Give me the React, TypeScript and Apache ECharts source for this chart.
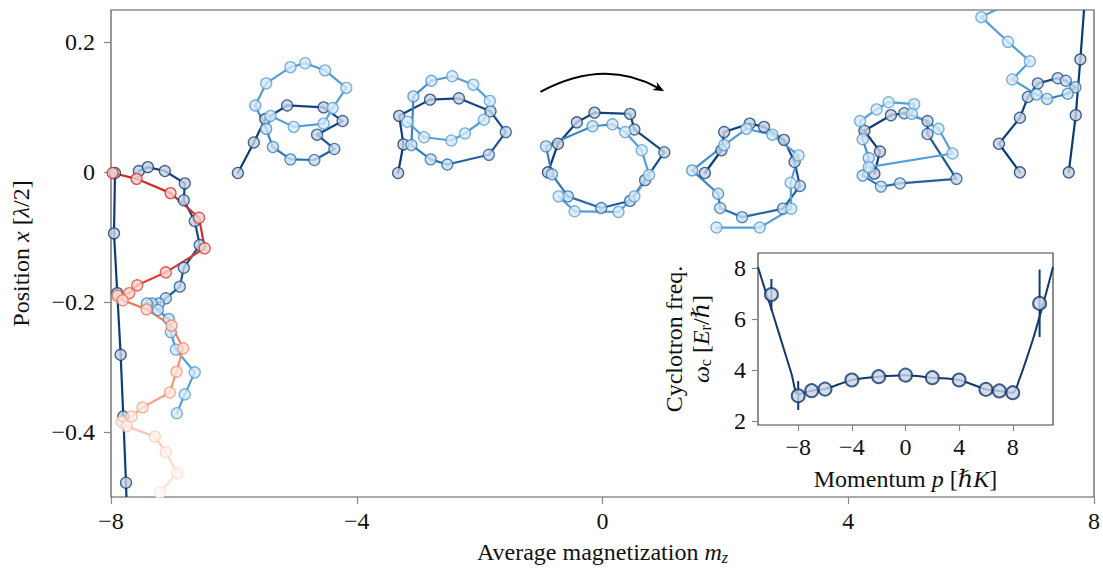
import React, { useEffect, useRef } from "react";
import * as echarts from "echarts";

// ---------- main panel: trajectories (average magnetization m_z, position x [λ/2]) ----------
const loop1Mz = [-5.935, -5.675, -5.49, -5.133, -4.539, -4.23, -4.646, -4.365, -4.69, -5.079, -5.366, -5.474, -5.652, -5.474, -5.079, -4.841, -4.516, -4.17, -4.393, -4.539, -5.026, -5.404];
const loop1Pos = [-0.001, 0.046, 0.082, 0.103, 0.1, 0.079, 0.058, 0.036, 0.019, 0.02, 0.039, 0.067, 0.103, 0.137, 0.162, 0.168, 0.157, 0.13, 0.099, 0.075, 0.07, 0.087];

const loop2Mz = [-3.327, -3.24, -3.31, -2.807, -2.337, -1.823, -1.574, -1.85, -2.526, -2.797, -3.11, -3.078, -2.786, -2.445, -2.104, -1.834, -1.931, -2.239, -2.461, -2.905, -3.176];
const loop2Pos = [-0.001, 0.043, 0.087, 0.112, 0.114, 0.094, 0.062, 0.027, 0.012, 0.02, 0.042, 0.117, 0.141, 0.148, 0.135, 0.11, 0.081, 0.06, 0.049, 0.054, 0.078];

const loop3Mz = [-0.888, -0.725, -0.417, -0.13, 0.449, 0.519, 1.006, 0.693, 0.449, -0.021, -0.563, -0.823, -0.92, -0.162, 0.162, 0.368, 0.638, 0.758, 0.519, 0.26, -0.454, -0.714];
const loop3Pos = [0.0, 0.044, 0.077, 0.092, 0.09, 0.066, 0.031, -0.012, -0.044, -0.055, -0.037, -0.003, 0.04, 0.071, 0.074, 0.062, 0.034, -0.004, -0.037, -0.061, -0.06, -0.037];

const loop4Mz = [1.666, 1.936, 1.98, 2.396, 2.629, 2.953, 3.127, 3.213, 2.937, 2.272, 1.915, 1.882, 1.46, 1.98, 2.342, 2.764, 3.191, 3.062, 3.072, 2.559, 1.855];
const loop4Pos = [-0.001, 0.034, 0.062, 0.075, 0.07, 0.05, 0.016, -0.021, -0.056, -0.069, -0.055, -0.033, 0.003, 0.042, 0.067, 0.058, 0.026, -0.016, -0.056, -0.085, -0.085];

const loop5Mz = [4.425, 4.516, 4.263, 4.695, 4.912, 5.29, 5.29, 5.761, 4.841, 4.532, 4.235, 4.333, 4.235, 4.192, 4.462, 4.657, 5.074, 5.036, 5.469, 5.696, 4.333];
const loop5Pos = [-0.002, 0.032, 0.064, 0.088, 0.091, 0.079, 0.059, -0.01, -0.017, -0.022, -0.005, 0.022, 0.051, 0.079, 0.097, 0.108, 0.105, 0.09, 0.067, 0.029, 0.008];

const edgeRightAMz = [6.794, 6.453, 6.794, 6.924, 7.086, 7.411, 7.541, 7.697, 7.573, 7.237, 7.064, 6.669, 6.956, 6.599, 6.166, 6.669];
const edgeRightAPos = [0.0, 0.044, 0.084, 0.116, 0.137, 0.145, 0.141, 0.131, 0.121, 0.113, 0.12, 0.143, 0.171, 0.201, 0.239, 0.263];

const edgeRightBMz = [7.589, 7.703, 7.778, 7.846];
const edgeRightBPos = [0.0, 0.088, 0.174, 0.261];

const edgeLeftAMz = [-7.935, -7.951, -7.898, -7.843, -7.8, -7.756, -7.724];
const edgeLeftAPos = [-0.001, -0.094, -0.186, -0.281, -0.376, -0.478, -0.577];

const edgeLeftBMz = [-7.546, -7.4, -7.124, -6.799, -6.815, -6.637, -6.556, -6.815, -6.88, -7.108, -7.221, -7.335, -7.416, -7.237, -7.059, -7.026, -6.945, -6.637, -6.799, -6.929];
const edgeLeftBPos = [0.002, 0.008, 0.002, -0.017, -0.043, -0.075, -0.112, -0.147, -0.176, -0.194, -0.202, -0.202, -0.202, -0.212, -0.226, -0.246, -0.273, -0.308, -0.342, -0.371];

const redMz = [-7.973, -7.583, -7.031, -6.567, -6.475, -7.108, -7.573, -7.703, -7.898, -7.81, -7.421, -7.015, -6.827, -6.934, -7.043, -7.486, -7.664, -7.826, -7.745, -7.286, -7.108, -6.924, -7.205, -7.367];
const redPos = [-0.001, -0.01, -0.032, -0.07, -0.117, -0.154, -0.174, -0.186, -0.19, -0.197, -0.211, -0.236, -0.271, -0.307, -0.339, -0.362, -0.376, -0.384, -0.391, -0.407, -0.431, -0.463, -0.493, -0.524];

const mainXTicks = [-8, -4, 0, 4, 8];
const mainYTicks = [-0.4, -0.2, 0, 0.2];

// ---------- inset: cyclotron frequency vs momentum ----------
const insetP = [-10, -8, -7, -6, -4, -2, 0, 2, 4, 6, 7, 8, 10];
const insetW = [6.97, 2.99, 3.19, 3.25, 3.61, 3.74, 3.8, 3.7, 3.61, 3.24, 3.18, 3.11, 6.62];
const errP = [-10, -8, 10];
const errLo = [6.35, 2.43, 5.3];
const errHi = [7.58, 3.57, 7.95];
const fitP = [-11, -10.5, -10, -9.5, -9, -8.5, -8, -7, -6, -4, -2, 0, 2, 4, 6, 7, 8, 8.5, 9, 9.5, 10, 10.5, 11];
const fitW = [8.05, 7.2, 6.4, 5.55, 4.7, 3.85, 3.05, 3.19, 3.25, 3.61, 3.74, 3.8, 3.7, 3.61, 3.24, 3.18, 3.11, 3.65, 4.4, 5.2, 6.1, 7.05, 8.05];
const insetXTicks = [-8, -4, 0, 4, 8];
const insetYTicks = [2, 4, 6, 8];

// arrow annotation (data coords): start, apex, end
const arrowMz = [-1.01, 0.0, 0.96];
const arrowPos = [0.124, 0.151, 0.127];

const BLUE_STOPS: [number, string][] = [
  [0, "#0d3a74"],
  [0.42, "#164a88"],
  [0.7, "#2c76b9"],
  [1, "#559fd8"],
];
const RED_STOPS: [number, string][] = [
  [0, "#cc2623"],
  [0.22, "#de3a2c"],
  [0.38, "#f26448"],
  [0.58, "#fa8d6d"],
  [0.8, "#fcbca4"],
  [1, "#fee4d9"],
];

const FONT = "'Liberation Serif', 'DejaVu Serif', serif";

function hexRgb(h: string) {
  const n = parseInt(h.slice(1), 16);
  return [(n >> 16) & 255, (n >> 8) & 255, n & 255];
}
function rgbStr(c: number[]) {
  return `rgb(${Math.round(c[0])},${Math.round(c[1])},${Math.round(c[2])})`;
}
function colorAt(stops: [number, string][], t: number) {
  t = Math.max(0, Math.min(1, t));
  for (let i = 0; i < stops.length - 1; i++) {
    const [t0, c0] = stops[i];
    const [t1, c1] = stops[i + 1];
    if (t <= t1) {
      const f = (t - t0) / (t1 - t0);
      const a = hexRgb(c0);
      const b = hexRgb(c1);
      return [0, 1, 2].map((k) => a[k] + (b[k] - a[k]) * f);
    }
  }
  return hexRgb(stops[stops.length - 1][1]);
}
function lighten(c: number[], w: number) {
  return c.map((v) => v * (1 - w) + 255 * w);
}
const minus = (s: string) => s.replace("-", "\u2212");

export default function App() {
  const ref = useRef<HTMLDivElement>(null);
  useEffect(() => {
    document.body.style.margin = "0";
    if (!ref.current) return;
    const chart = echarts.init(ref.current, undefined, { renderer: "svg" });

    const trajectories = [
      { mz: edgeLeftAMz, pos: edgeLeftAPos, stops: BLUE_STOPS, span: 60 },
      { mz: edgeLeftBMz, pos: edgeLeftBPos, stops: BLUE_STOPS, span: 16 },
      { mz: redMz, pos: redPos, stops: RED_STOPS, span: 22 },
      { mz: loop1Mz, pos: loop1Pos, stops: BLUE_STOPS, span: 13 },
      { mz: loop2Mz, pos: loop2Pos, stops: BLUE_STOPS, span: 13 },
      { mz: loop3Mz, pos: loop3Pos, stops: BLUE_STOPS, span: 15 },
      { mz: loop4Mz, pos: loop4Pos, stops: BLUE_STOPS, span: 14 },
      { mz: loop5Mz, pos: loop5Pos, stops: BLUE_STOPS, span: 13 },
      { mz: edgeRightAMz, pos: edgeRightAPos, stops: BLUE_STOPS, span: 11 },
      { mz: edgeRightBMz, pos: edgeRightBPos, stops: BLUE_STOPS, span: 60 },
    ];

    const series: any[] = [];
    trajectories.forEach((tr) => {
      const n = tr.mz.length;
      const segs: number[][] = [];
      const segCols: string[] = [];
      for (let i = 0; i < n - 1; i++) {
        segs.push([tr.mz[i], tr.pos[i], tr.mz[i + 1], tr.pos[i + 1]]);
        segCols.push(rgbStr(colorAt(tr.stops, (i + 0.5) / tr.span)));
      }
      series.push({
        type: "custom",
        xAxisIndex: 0,
        yAxisIndex: 0,
        clip: true,
        z: 2,
        silent: true,
        data: segs,
        encode: { x: [0, 2], y: [1, 3] },
        renderItem: (params: any, api: any) => {
          const a = api.coord([api.value(0), api.value(1)]);
          const b = api.coord([api.value(2), api.value(3)]);
          return {
            type: "line",
            shape: { x1: a[0], y1: a[1], x2: b[0], y2: b[1] },
            style: { stroke: segCols[params.dataIndex], lineWidth: 2.2, lineCap: "round" },
          };
        },
      });
    });
    trajectories.forEach((tr) => {
      series.push({
        type: "scatter",
        xAxisIndex: 0,
        yAxisIndex: 0,
        z: 3,
        symbolSize: 11,
        clip: true,
        silent: true,
        data: tr.mz.map((x, i) => {
          const c = colorAt(tr.stops, i / tr.span);
          return {
            value: [x, tr.pos[i]],
            itemStyle: { color: rgbStr(lighten(c, 0.76)), borderColor: rgbStr(c), borderWidth: 1.3 },
          };
        }),
      });
    });

    // inset series
    series.push({
      type: "line",
      xAxisIndex: 1,
      yAxisIndex: 1,
      z: 11,
      smooth: 0.3,
      showSymbol: false,
      silent: true,
      clip: true,
      data: fitP.map((p, i) => [p, fitW[i]]),
      lineStyle: { color: "#12386e", width: 2 },
    });
    series.push({
      type: "custom",
      xAxisIndex: 1,
      yAxisIndex: 1,
      z: 12,
      silent: true,
      data: errP.map((p, i) => [p, errLo[i], errHi[i]]),
      encode: { x: 0, y: [1, 2] },
      renderItem: (_params: any, api: any) => {
        const a = api.coord([api.value(0), api.value(1)]);
        const b = api.coord([api.value(0), api.value(2)]);
        return {
          type: "line",
          shape: { x1: a[0], y1: a[1], x2: b[0], y2: b[1] },
          style: { stroke: "#12386e", lineWidth: 2 },
        };
      },
    });
    series.push({
      type: "scatter",
      xAxisIndex: 1,
      yAxisIndex: 1,
      z: 13,
      symbolSize: 13,
      silent: true,
      data: insetP.map((p, i) => [p, insetW[i]]),
      itemStyle: { color: "#cbd4e2", borderColor: "#12386e", borderWidth: 2 },
    });

    const FS = 24;
    const labelStyle = { fontFamily: FONT, fontSize: FS, color: "#111" };
    const rich = {
      n: { fontFamily: FONT, fontSize: FS, color: "#111" },
      i: { fontFamily: FONT, fontSize: FS, fontStyle: "italic", color: "#111" },
      s: { fontFamily: FONT, fontSize: 16, fontStyle: "italic", color: "#111", padding: [10, 0, 0, 0] },
      r: { fontFamily: FONT, fontSize: 16, color: "#111", padding: [10, 0, 0, 0] },
    };
    const tickStyle = { color: "#888", width: 1.2 };

    chart.setOption({
      animation: false,
      backgroundColor: "#fff",
      grid: [
        { left: 111, right: 6, top: 10, bottom: 70, show: true, borderColor: "#555", borderWidth: 1.2, backgroundColor: "transparent" },
        { left: 758, top: 253, width: 295, height: 172, show: true, borderColor: "#444", borderWidth: 1.2, backgroundColor: "#fff", z: 10 },
      ],
      xAxis: [
        {
          type: "value",
          gridIndex: 0,
          min: -8,
          max: 8,
          axisLine: { show: false, onZero: false },
          splitLine: { show: false },
          axisTick: { show: true, length: 7, lineStyle: tickStyle, customValues: mainXTicks },
          axisLabel: { ...labelStyle, margin: 12, customValues: mainXTicks, formatter: (v: number) => minus(String(v)) },
          name: "{n|Average magnetization }{i|m}{s|z}",
          nameLocation: "middle",
          nameGap: 42,
          nameTextStyle: { ...labelStyle, rich },
        },
        {
          type: "value",
          gridIndex: 1,
          min: -11,
          max: 11,
          z: 10,
          axisLine: { show: false, onZero: false },
          splitLine: { show: false },
          axisTick: { show: true, length: 6, lineStyle: tickStyle, customValues: insetXTicks },
          axisLabel: { ...labelStyle, margin: 10, customValues: insetXTicks, formatter: (v: number) => minus(String(v)) },
          name: "{n|Momentum }{i|p}{n| [ℏ}{i|K}{n|]}",
          nameLocation: "middle",
          nameGap: 42,
          nameTextStyle: { ...labelStyle, rich },
        },
      ],
      yAxis: [
        {
          type: "value",
          gridIndex: 0,
          min: -0.5,
          max: 0.25,
          axisLine: { show: false, onZero: false },
          splitLine: { show: false },
          axisTick: { show: true, length: 7, lineStyle: tickStyle, customValues: mainYTicks },
          axisLabel: {
            ...labelStyle,
            margin: 16,
            customValues: mainYTicks,
            formatter: (v: number) => (Math.abs(v) < 1e-9 ? "0" : minus(v.toFixed(1))),
          },
          name: "{n|Position }{i|x}{n| [}{i|λ}{n|/2]}",
          nameLocation: "middle",
          nameGap: 78,
          nameTextStyle: { ...labelStyle, rich },
        },
        {
          type: "value",
          gridIndex: 1,
          min: 1.84,
          max: 8.6,
          z: 10,
          axisLine: { show: false, onZero: false },
          splitLine: { show: false },
          axisTick: { show: true, length: 6, lineStyle: tickStyle, customValues: insetYTicks },
          axisLabel: { ...labelStyle, margin: 12, customValues: insetYTicks, formatter: (v: number) => String(v) },
          name: "{n|Cyclotron freq.}\n{i|ω}{r|c}{n| [}{i|E}{r|r}{n|/ℏ]}",
          nameLocation: "middle",
          nameGap: 44,
          nameTextStyle: { ...labelStyle, rich, lineHeight: 27 },
        },
      ],
      series,
    });

    // arrow annotation above the middle loop
    const p0 = chart.convertToPixel({ gridIndex: 0 }, [arrowMz[0], arrowPos[0]]) as number[];
    const pm = chart.convertToPixel({ gridIndex: 0 }, [arrowMz[1], arrowPos[1]]) as number[];
    const p2 = chart.convertToPixel({ gridIndex: 0 }, [arrowMz[2], arrowPos[2]]) as number[];
    const cx = 2 * pm[0] - (p0[0] + p2[0]) / 2;
    const cy = 2 * pm[1] - (p0[1] + p2[1]) / 2;
    const tx = p2[0] - cx;
    const ty = p2[1] - cy;
    const tl = Math.hypot(tx, ty);
    const ux = tx / tl;
    const uy = ty / tl;
    const tip = [p2[0] + ux * 3, p2[1] + uy * 3];
    const L = 11;
    const W = 4.5;
    const base = [tip[0] - ux * L, tip[1] - uy * L];
    const notch = [tip[0] - ux * L * 0.7, tip[1] - uy * L * 0.7];
    chart.setOption({
      graphic: [
        {
          type: "bezierCurve",
          shape: { x1: p0[0], y1: p0[1], x2: p2[0] - ux * 4, y2: p2[1] - uy * 4, cpx1: cx, cpy1: cy },
          style: { stroke: "#000", lineWidth: 2, fill: null },
          z: 20,
          silent: true,
        },
        {
          type: "polygon",
          shape: {
            points: [
              tip,
              [base[0] - uy * W, base[1] + ux * W],
              notch,
              [base[0] + uy * W, base[1] - ux * W],
            ],
          },
          style: { fill: "#000" },
          z: 21,
          silent: true,
        },
      ],
    });

    return () => chart.dispose();
  }, []);
  return <div ref={ref} style={{ width: 1103, height: 570 }} />;
}
